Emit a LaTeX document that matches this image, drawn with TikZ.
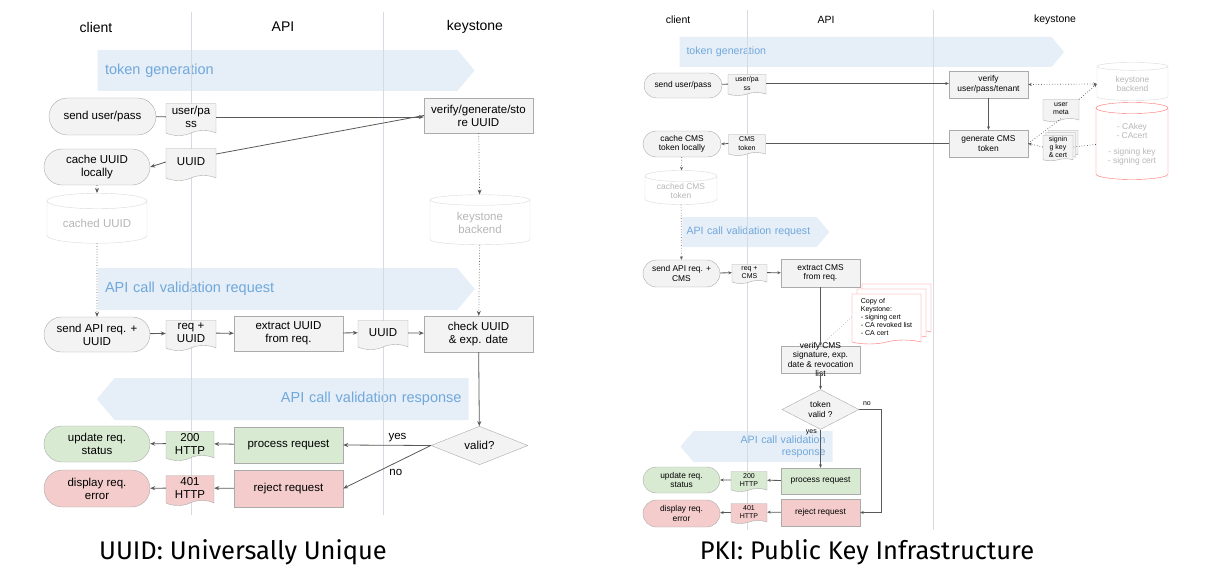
\documentclass[tikz,border=0pt]{standalone}
\usepackage{fontspec}
\setmainfont{Liberation Sans}
\newfontfamily\capfont{Fira Sans}
\usetikzlibrary{positioning,shapes.misc,shapes.geometric,shapes.symbols,shadows,arrows.meta}

\definecolor{boxc}{HTML}{F3F3F3}
\definecolor{edgec}{HTML}{ABABAB}
\definecolor{linec}{HTML}{595959}
\definecolor{okc}{HTML}{D9EAD3}
\definecolor{failc}{HTML}{F4CCCC}
\definecolor{banc}{HTML}{E6EEF7}
\definecolor{bantext}{HTML}{6FA8DC}
\definecolor{lanec}{HTML}{D5DBE3}
\definecolor{ghostline}{HTML}{D9D9D9}
\definecolor{ghost}{HTML}{B7B7B7}
\definecolor{certred}{HTML}{FF6F6F}

\newcommand{\uuidfont}{\fontsize{11.5}{13}\selectfont}
\newcommand{\uuidhead}{\fontsize{14}{16}\selectfont}
\newcommand{\uuidban}{\fontsize{14.5}{17}\selectfont}
\newcommand{\pkifont}{\fontsize{8.4}{9.4}\selectfont}
\newcommand{\pkidoc}{\fontsize{7}{8.2}\selectfont}
\newcommand{\pkihead}{\fontsize{10.5}{12}\selectfont}
\newcommand{\pkiban}{\fontsize{10.6}{12}\selectfont}

\begin{document}
\begin{tikzpicture}[x=1pt, y=-1pt,
  lane/.style={draw=lanec, line width=0.8pt},
  term/.style={rounded rectangle, draw=edgec, fill=#1, inner sep=1pt, align=center},
  term/.default=boxc,
  proc/.style={rectangle, draw=edgec, fill=#1, inner sep=1pt, align=center},
  proc/.default=boxc,
  doc/.style={tape, tape bend top=none, tape bend bottom=in and out, draw=edgec, fill=#1, inner sep=1pt, align=center},
  doc/.default=boxc,
  store/.style={cylinder, shape border rotate=90, aspect=0.22, draw=#1, fill=white, text=ghost, align=center, inner sep=1pt},
  store/.default=ghostline,
  decide/.style={diamond, draw=edgec, fill=boxc, inner sep=0pt, align=center},
  banner/.style={signal, fill=banc, text=bantext, signal pointer angle=100, inner xsep=7pt},
  flow/.style={->, draw=linec, line width=0.8pt},
  dotflow/.style={->, draw=linec, dotted, line width=0.7pt},
]
\useasboundingbox (0,0) rectangle (1217,575);

% ================= UUID =================
\begin{scope}[font=\uuidfont, >={Stealth[length=5pt,width=4pt]}]
\node[banner, signal to=east, font=\uuidban, minimum width=377pt, minimum height=41pt, text width=345pt, align=left] (ltok) at (277.5,70.5) {token generation};
\node[banner, signal to=east, font=\uuidban, minimum width=377pt, minimum height=42pt, text width=345pt, align=left] (lreqban) at (277.5,289) {API call validation request};
\node[banner, signal to=west, font=\uuidban, minimum width=369pt, minimum height=42pt, text width=340pt, align=right] (lrespban) at (291.5,399) {API call validation response};

\draw[lane] (191,12) -- (191,515);
\draw[lane] (383,12) -- (383,515);
\node[font=\uuidhead] (lclient) at (96,27) {client};
\node[font=\uuidhead] (lapi) at (283,27) {API};
\node[font=\uuidhead] (lkey) at (475,27) {keystone};

% token generation
\node[term, minimum width=109pt, minimum height=37pt] (lsend) at (102.5,116.5) {send user/pass};
\node[doc, minimum width=50pt, minimum height=32pt] (lup) at (191,117) {user/pa\\ss};
\node[proc, minimum width=109pt, minimum height=35pt] (lverify) at (478.5,115.5) {verify/generate/sto\\re UUID};
\node[term, minimum width=108pt, minimum height=36pt] (lcache) at (97,167) {cache UUID\\locally};
\node[doc, minimum width=50pt, minimum height=32pt] (luuid) at (191,162) {UUID};
\node[store, minimum width=100pt, minimum height=50pt] (lcached) at (97,223) {cached UUID};
\node[store, minimum width=100pt, minimum height=50pt] (lbackend) at (480,223) {keystone\\backend};

% validation request
\node[term, minimum width=108pt, minimum height=35pt] (lsendapi) at (97,334.5) {send API req. +\\UUID};
\node[doc, minimum width=50pt, minimum height=30pt] (lreq) at (191,333) {req +\\UUID};
\node[proc, minimum width=109pt, minimum height=35pt] (lextract) at (288.5,333.5) {extract UUID\\from req.};
\node[doc, minimum width=50pt, minimum height=29pt] (luuid2) at (383,332.5) {UUID};
\node[proc, minimum width=109pt, minimum height=36pt] (lcheck) at (478.5,334) {check UUID\\\& exp. date};

% validation response
\node[decide, minimum width=97pt, minimum height=35pt] (lvalid) at (479.5,445.5) {valid?};
\node[proc=okc, minimum width=109pt, minimum height=36pt] (lprocess) at (288.5,445) {process request};
\node[proc=failc, minimum width=109pt, minimum height=37pt] (lreject) at (288.5,488.5) {reject request};
\node[doc=okc, minimum width=48pt, minimum height=29pt] (l200) at (190,443.5) {200\\HTTP};
\node[doc=failc, minimum width=48pt, minimum height=30pt] (l401) at (190,488) {401\\HTTP};
\node[term=okc, minimum width=108pt, minimum height=36pt] (lupdate) at (97,444) {update req.\\status};
\node[term=failc, minimum width=108pt, minimum height=37pt] (ldisplay) at (97,488.5) {display req.\\error};

\draw[flow, -] (lsend) -- (lup);
\draw[flow] (lup.east) -- (lup.east -| lverify.west);
\draw[flow, -] (lverify.west) -- ([yshift=8pt]luuid.east);
\draw[flow] (luuid.west) -- (lcache.east);
\draw[dotflow] (lcache) -- (lcached);
\draw[dotflow] (lcached) -- (lsendapi);
\draw[dotflow] (lverify) -- (lbackend);
\draw[dotflow] (lbackend) -- (lcheck);
\draw[flow] (lsendapi) -- (lreq);
\draw[flow] (lreq) -- (lextract);
\draw[flow] (lextract) -- (luuid2);
\draw[flow] (luuid2) -- (lcheck);
\draw[flow] (lcheck) -- (lvalid);
\draw[flow] (lvalid.west) -- (lprocess.east) node[pos=0.38, above] {yes};
\draw[flow] (lvalid.west) -- (lreject.east) node[pos=0.4, below=3pt] {no};
\draw[flow] (lprocess) -- (l200);
\draw[flow] (l200) -- (lupdate);
\draw[flow] (lreject) -- (l401);
\draw[flow] (l401) -- (ldisplay);
\end{scope}

% ================= PKI =================
\begin{scope}[font=\pkifont, >={Stealth[length=3.5pt,width=3pt]}]
\node[banner, signal to=east, font=\pkiban, minimum width=383pt, minimum height=30pt, text width=358pt, align=left] (rtok) at (865.5,52) {token generation};
\node[banner, signal to=east, font=\pkiban, inner xsep=4pt, minimum width=147pt, minimum height=30pt, text width=126pt, align=left] (rreqban) at (749.5,232) {API call validation request};
\node[banner, signal to=west, font=\pkiban, minimum width=148pt, minimum height=31pt, text width=125pt, align=right] (rrespban) at (763,446.5) {API call validation\\response};

\draw[lane] (747,10) -- (747,530);
\draw[lane] (933,10) -- (933,530);
\node[font=\pkihead] (rclient) at (678,20) {client};
\node[font=\pkihead] (rapi) at (826,20) {API};
\node[font=\pkihead] (rkey) at (1055,20) {keystone};

% token generation
\node[term, minimum width=80pt, minimum height=25pt] (rsend) at (683,85.5) {send user/pass};
\node[doc, font=\pkidoc, tape bend height=3pt, minimum width=38pt, minimum height=21pt] (rup) at (747,83.5) {user/pa\\ss};
\node[proc, minimum width=79pt, minimum height=27pt] (rverify) at (988.5,84.5) {verify\\user/pass/tenant};
\node[store, font=\pkifont, minimum width=71pt, minimum height=38pt] (rbackend) at (1132.5,84) {keystone\\backend};
\node[doc, font=\pkidoc, tape bend height=3pt, minimum width=36pt, minimum height=22pt] (rmeta) at (1061,109) {user\\meta};
\node[proc, minimum width=79pt, minimum height=27pt] (rgen) at (988.5,143.5) {generate CMS\\token};
\node[doc, font=\pkidoc, tape bend height=2pt, minimum width=30pt, minimum height=21pt,
      double copy shadow={shadow xshift=2.5pt, shadow yshift=2.5pt}] (rsign) at (1058,147) {signin\\g key\\\& cert};
\node[store=certred, font=\pkifont, minimum width=72pt, minimum height=77pt] (rca) at (1132,144.5) {- CAkey\\- CAcert\\[6pt]- signing key\\- signing cert};
\node[term, minimum width=80pt, minimum height=26pt] (rcache) at (682,144) {cache CMS\\token locally};
\node[doc, font=\pkidoc, tape bend height=3pt, minimum width=37pt, minimum height=21pt] (rcms) at (747,143.5) {CMS\\token};
\node[store, font=\pkifont, minimum width=72pt, minimum height=34pt] (rcached) at (681,191) {cached CMS\\token};

% validation request
\node[term, minimum width=79pt, minimum height=27pt] (rsendapi) at (681.5,273.5) {send API req. +\\CMS};
\node[doc, font=\pkidoc, tape bend height=3pt, minimum width=35pt, minimum height=19pt] (rreq) at (749.5,272.5) {req +\\CMS};
\node[proc, minimum width=79pt, minimum height=28pt] (rextract) at (820.5,273) {extract CMS\\from req.};
\node[doc, font=\pkidoc, draw=certred, fill=white, align=left, tape bend height=4pt, minimum width=69pt, minimum height=50pt,
      double copy shadow={shadow xshift=5pt, shadow yshift=5pt}] (rcopy) at (886.5,317) {Copy of\\Keystone:\\- signing cert\\- CA revoked list\\- CA cert};
\node[proc, inner ysep=-4.5pt, minimum width=79pt, minimum height=27pt] (rvercms) at (820.5,359.5) {verify CMS\\signature, exp.\\date \& revocation\\list};

% validation response
\node[decide, minimum width=77pt, minimum height=27pt] (rvalid) at (820.5,409.5) {token\\valid ?};
\node[proc=okc, minimum width=79pt, minimum height=26pt] (rprocess) at (820.5,481) {process request};
\node[proc=failc, minimum width=79pt, minimum height=27pt] (rreject) at (820.5,512.5) {reject request};
\node[doc=okc, font=\pkidoc, tape bend height=3pt, minimum width=36pt, minimum height=20pt] (r200) at (749,480) {200\\HTTP};
\node[doc=failc, font=\pkidoc, tape bend height=3pt, minimum width=36pt, minimum height=20pt] (r401) at (749,512) {401\\HTTP};
\node[term=okc, minimum width=79pt, minimum height=26pt] (rupdate) at (681.5,480) {update req.\\status};
\node[term=failc, minimum width=79pt, minimum height=27pt] (rdisplay) at (681.5,513.5) {display req.\\error};

\draw[flow, -] (rsend) -- (rup);
\draw[flow] (rup.east) -- (rup.east -| rverify.west);
\draw[dotflow, <->] (rverify.east) -- (rbackend.west);
\draw[dotflow] (rmeta.north east) -- (rbackend.west);
\draw[dotflow, -] (rmeta.south) -- (rgen.east);
\draw[flow] (rverify) -- (rgen);
\draw[dotflow, -] (rca.west) -- (rsign.east);
\draw[dotflow] (rsign.west) -- (rgen.east);
\draw[flow, -] (rgen.west) -- (rcms.east);
\draw[flow] (rcms.west) -- (rcache.east);
\draw[dotflow] (rcache) -- (rcached);
\draw[dotflow] (rcached) -- (rsendapi);
\draw[flow] (rsendapi) -- (rreq);
\draw[flow] (rreq) -- (rextract);
\draw[flow] (rextract) -- (rvercms);
\draw[dotflow, -, draw=ghost] (rcopy.west) -- (rvercms.north);
\draw[flow] (rvercms) -- (rvalid);
\draw[flow] (rvalid) -- (rprocess) node[pos=0.08, left, font=\pkidoc] {yes};
\draw[flow] (rvalid.east) -- ++(22,0) node[pos=0.35, above, font=\pkidoc] {no} |- (rreject.east);
\draw[flow] (rprocess) -- (r200);
\draw[flow] (r200) -- (rupdate);
\draw[flow] (rreject) -- (r401);
\draw[flow] (r401) -- (rdisplay);
\end{scope}

% captions
\node[font=\capfont\fontsize{25.5}{30}\selectfont] (ucap) at (243,552) {UUID: Universally Unique};
\node[font=\capfont\fontsize{25.5}{30}\selectfont] (pcap) at (867,552) {PKI: Public Key Infrastructure};
\end{tikzpicture}
\end{document}
